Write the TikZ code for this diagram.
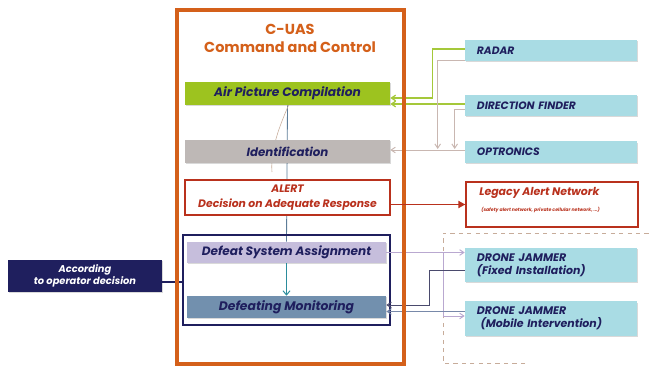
\documentclass[tikz,border=0pt]{standalone}
\usepackage{fontspec}
\setmainfont{Poppins}
\usetikzlibrary{calc,fit,shadows,backgrounds,arrows.meta}

\definecolor{ccorange}{HTML}{D4601A}
\definecolor{ccnavy}{HTML}{1F1F5E}
\definecolor{ccred}{HTML}{B9311D}
\definecolor{airgreen}{HTML}{9DC31F}
\definecolor{idgray}{HTML}{BEB8B6}
\definecolor{dsalav}{HTML}{C6BEDC}
\definecolor{dmblue}{HTML}{7290AE}
\definecolor{sensor}{HTML}{A9DCE4}
\definecolor{feedgray}{HTML}{C9B7B1}
\definecolor{feedgreen}{HTML}{A5C83A}
\definecolor{lavline}{HTML}{B9A8D0}
\definecolor{trunkblue}{HTML}{5C7C98}
\definecolor{arrowteal}{HTML}{2B8C9C}

\tikzset{
  stage/.style={minimum width=5.125cm, minimum height=0.575cm, inner sep=0pt,
    font=\fontsize{8.7}{10}\selectfont\bfseries\itshape, text=ccnavy,
    drop shadow={opacity=0.3, shadow xshift=0.8pt, shadow yshift=-0.8pt}},
  sensorbox/.style={fill=sensor, minimum width=4.3cm, text width=3.7cm, align=left,
    inner xsep=0.3cm, inner ysep=0pt, minimum height=0.525cm,
    font=\fontsize{7.6}{8}\selectfont\bfseries\itshape, text=ccnavy,
    drop shadow={opacity=0.3, shadow xshift=0.8pt, shadow yshift=-0.8pt}},
  feed/.style={line width=0.7pt, -{Straight Barb[length=3pt,width=4pt]}},
}

\begin{document}
\begin{tikzpicture}[x=0.025cm, y=-0.025cm]
  \useasboundingbox (0,0) rectangle (649,367);

  % command and control column
  \node[font=\fontsize{10.3}{12.8}\selectfont\bfseries, text=ccorange, align=center] (title) at (290,38) {C-UAS\\Command and Control};
  \node[stage, fill=airgreen] (air) at (287.5,93.5) {Air Picture Compilation};
  \node[stage, fill=idgray, font=\fontsize{8.4}{10}\selectfont\bfseries\itshape] (ident) at (287.5,151.5) {Identification};
  \node[stage, fill=white, draw=ccred, line width=0.9pt, minimum height=0.875cm, text=ccred, align=center,
    font=\fontsize{7.7}{10.5}\selectfont\bfseries\itshape] (alert) at (287.5,197.5) {ALERT\\Decision on Adequate Response};
  \node[stage, fill=dsalav, minimum width=4.975cm, minimum height=0.525cm, font=\fontsize{8.6}{9}\selectfont\bfseries\itshape] (dsa) at (286.5,252.5) {Defeat System Assignment};
  \node[stage, fill=dmblue, minimum width=4.975cm, minimum height=0.55cm, font=\fontsize{8.8}{9}\selectfont\bfseries\itshape] (dm) at (286.5,307) {Defeating Monitoring};
  \node[draw=ccnavy, line width=1.3pt, fit=(dsa)(dm), inner xsep=2.5pt, inner ysep=4.5pt] (defeat) {};

  % operator
  \node[fill=ccnavy, minimum width=3.85cm, minimum height=0.8cm, text=white, align=center,
    font=\fontsize{7}{9}\selectfont\bfseries\itshape,
    drop shadow={opacity=0.3, shadow xshift=0.8pt, shadow yshift=-0.8pt}] (oper) at (85,276) {According\\to operator decision};

  % sensors and effectors
  \node[sensorbox] (radar) at (551,50.5) {RADAR};
  \node[sensorbox] (df) at (551,105.5) {DIRECTION FINDER};
  \node[sensorbox] (opt) at (551,152) {OPTRONICS};
  \node[fill=white, draw=ccred, line width=0.9pt, minimum width=4.3cm, minimum height=1.125cm,
    drop shadow={opacity=0.3, shadow xshift=0.8pt, shadow yshift=-0.8pt}] (legacy) at (552,204.5) {};
  \node[anchor=west, text=ccred, font=\fontsize{7.8}{8}\selectfont\bfseries\itshape, inner sep=0pt] (legtitle) at (479,193) {Legacy Alert Network};
  \node[anchor=west, text=ccred, font=\fontsize{3.3}{4}\selectfont\bfseries\itshape, inner sep=0pt] (legnote) at (481,210) {(safety alert network, private cellular network, ...)};
  \node[sensorbox, minimum height=0.85cm, font=\fontsize{7.8}{9.5}\selectfont\bfseries\itshape] (jamfix) at (551,265) {DRONE JAMMER\\(Fixed Installation)};
  \node[sensorbox, minimum height=0.85cm, font=\fontsize{7.8}{9.5}\selectfont\bfseries\itshape] (jammob) at (551,318.5) {DRONE JAMMER\\\ (Mobile Intervention)};

  % trunk behind the stages
  \begin{scope}[on background layer]
    \draw[trunkblue, line width=0.6pt] (air.south) -- (dsa.north);
    \draw[feedgray!80!brown, line width=0.4pt] ($(air.south)+(1,0)$) .. controls (280,125) and (270,150) .. (272,172);
  \end{scope}
  \draw[arrowteal, line width=0.7pt, -{Straight Barb[length=3pt,width=5pt]}] (dsa.south) -- (dm.north);

  % sensor feeds
  \coordinate (radgreen) at ($(radar.west)+(0,-1.5)$);
  \coordinate (radgray) at ($(radar.west)+(0,9.5)$);
  \coordinate (dfgreen) at ($(df.west)+(0,-1.5)$);
  \coordinate (dfgray) at ($(df.west)+(0,3.5)$);
  \draw[feed, feedgreen, line width=0.9pt] (radgreen) -- ++(-32,0) |- ($(air.east)+(0,4.5)$);
  \draw[feed, feedgreen, line width=0.9pt] (dfgreen) -- (dfgreen -| air.east);
  \draw[feed, feedgray] (radgray) -| ($(opt.west)+(-27,-3)$);
  \draw[feed, feedgray] (dfgray) -| ($(opt.west)+(-10,-3)$);
  \draw[feed, feedgray] ($(opt.west)+(0,-2)$) -- ($(ident.east)+(0,-1.5)$);

  % effectors
  \draw[dashed, feedgray!80!brown, line width=0.6pt] (525,363) -- (443,363) -- (443,233) -- (649,233);
  \draw[feed, lavline] (dsa.east) -- (dsa.east -| jamfix.west);
  \draw[feed, lavline] (dsa.east -| 443,0) |- ($(jammob.west)+(0,-2.5)$);
  \draw[feed, ccnavy!55!gray] ($(jamfix.west)+(0,5)$) -- ++(-35,0) |- ($(dm.east)+(0,-2)$);
  \draw[feed, trunkblue!70!lavline] ($(jammob.west)+(0,-7)$) -- ($(dm.east)+(0,4.5)$);
  \coordinate (operout) at ($(oper.east)+(0,6)$);
  \draw[ccnavy, line width=1pt] (operout) -- (operout -| defeat.west);

  % C2 frame on top of feeds
  \draw[ccorange, line width=2.2pt] (177,10) rectangle (404,364);
  \draw[ccred, line width=1.3pt, -{Triangle[length=5pt,width=5pt]}] (legacy.west -| alert.east) -- (legacy.west);
\end{tikzpicture}
\end{document}
